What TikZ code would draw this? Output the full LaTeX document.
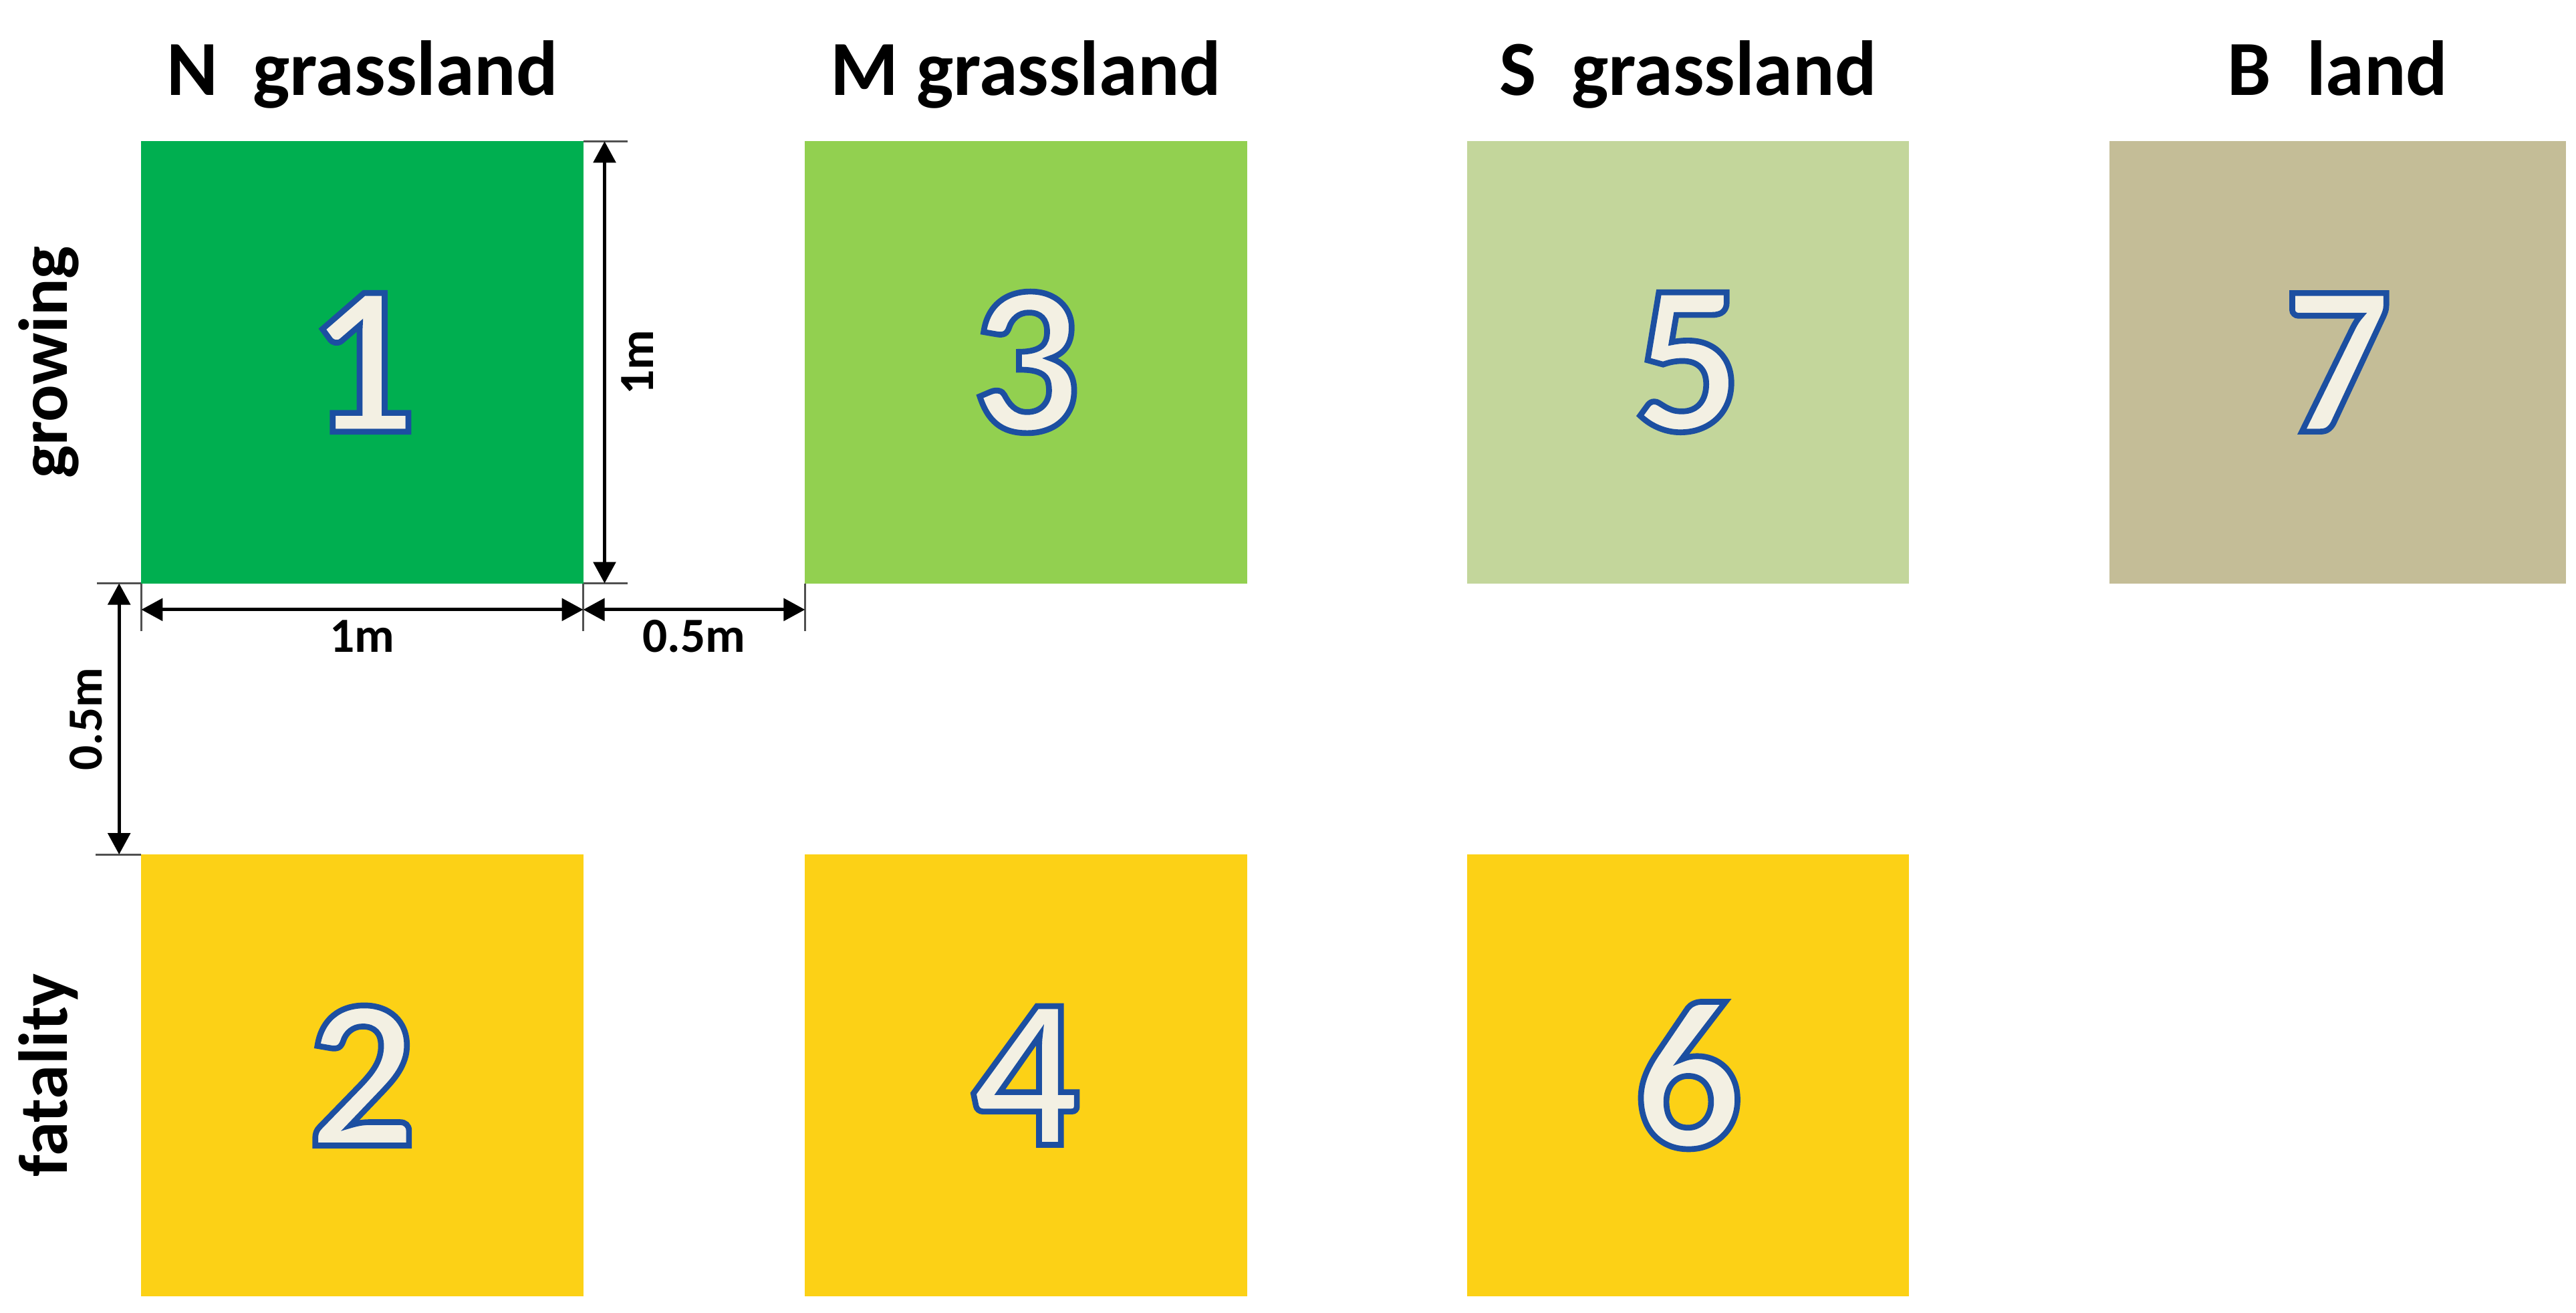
\documentclass[tikz,border=0pt]{standalone}
\usepackage{fontspec}
\setmainfont{Carlito}
\usetikzlibrary{positioning,arrows.meta}
\definecolor{plotgreen}{HTML}{00AF50}
\definecolor{plotlime}{HTML}{92D050}
\definecolor{plotpale}{HTML}{C3D69B}
\definecolor{plottan}{HTML}{C4BD97}
\definecolor{plotyellow}{HTML}{FCD116}
\definecolor{numcream}{HTML}{F3F0E3}
\definecolor{extgray}{HTML}{505050}
% outlined plot number: cream fill, blue stroke
\newcommand{\plotnum}[1]{\special{pdf:literal direct 0.11 0.31 0.63 RG 2 Tr 1.0 w}#1\special{pdf:literal direct 0 Tr}}

\begin{document}
\begin{tikzpicture}[
    plotbox/.style={minimum size=2.69cm, inner sep=0pt, outer sep=0pt, text=numcream, font=\bfseries\fontsize{37}{40}\selectfont},
    headtext/.style={font=\bfseries\fontsize{13.5}{16}\selectfont, anchor=base},
    sidetext/.style={font=\bfseries\fontsize{12}{14}\selectfont, rotate=90, anchor=base},
    dimlabel/.style={font=\bfseries\fontsize{8.5}{10}\selectfont, anchor=base},
    dimline/.style={{Triangle[length=1.3mm,width=1.35mm]}-{Triangle[length=1.3mm,width=1.35mm]}, line width=0.6pt},
    extline/.style={draw=extgray, line width=0.35pt}
]
\useasboundingbox (0,0) rectangle (15.68,7.99);

% growing row
\node[plotbox, fill=plotgreen] (p1) at (2.205,5.785) {\plotnum{1}};
\node[plotbox, fill=plotlime, right=1.35cm of p1] (p3) {\plotnum{3}};
\node[plotbox, fill=plotpale, right=1.34cm of p3] (p5) {\plotnum{5}};
\node[plotbox, fill=plottan, minimum width=2.78cm, right=1.22cm of p5] (p7) {\plotnum{7}};
% fatality row
\node[plotbox, fill=plotyellow, below=1.65cm of p1] (p2) {\plotnum{2}};
\node[plotbox, fill=plotyellow, below=1.65cm of p3] (p4) {\plotnum{4}};
\node[plotbox, fill=plotyellow, below=1.65cm of p5] (p6) {\plotnum{6}};

\node[headtext] (t1) at ([yshift=0.28cm]p1.north) {N\ \ grassland};
\node[headtext] (t3) at ([yshift=0.28cm]p3.north) {M grassland};
\node[headtext] (t5) at ([yshift=0.28cm]p5.north) {S\ \ grassland};
\node[headtext] (t7) at ([yshift=0.28cm]p7.north) {B\ \ land};

\node[sidetext] (growing) at ([xshift=-0.45cm]p1.west) {growing};
\node[sidetext] (fatality) at ([xshift=-0.45cm]p2.west) {fatality};

% plot size and spacing
\draw[extline] (p1.north east) -- ++(0.27,0);
\draw[extline] (p1.south east) -- ++(0.27,0);
\draw[dimline] ([xshift=0.13cm]p1.north east) -- ([xshift=0.13cm]p1.south east);
\node[dimlabel, rotate=90] (side1m) at ([xshift=0.425cm]p1.east) {1m};

\draw[extline] (p1.south west) -- ++(0,-0.29);
\draw[extline] (p1.south east) -- ++(0,-0.29);
\draw[extline] (p3.south west) -- ++(0,-0.29);
\draw[dimline] ([yshift=-0.16cm]p1.south west) -- ([yshift=-0.16cm]p1.south east);
\draw[dimline] ([yshift=-0.16cm]p1.south east) -- ([yshift=-0.16cm]p3.south west);
\node[dimlabel] (width1m) at ([yshift=-0.42cm]p1.south) {1m};
\node[dimlabel] (gapx) at ([xshift=0.675cm, yshift=-0.42cm]p1.south east) {0.5m};

\draw[extline] (p1.south west) -- ++(-0.27,0);
\draw[extline] (p2.north west) -- ++(-0.28,0);
\draw[dimline] ([xshift=-0.135cm]p1.south west) -- ([xshift=-0.135cm]p2.north west);
\node[dimlabel, rotate=90] (gapy) at ([xshift=-0.24cm, yshift=-0.825cm]p1.south west) {0.5m};
\end{tikzpicture}
\end{document}
